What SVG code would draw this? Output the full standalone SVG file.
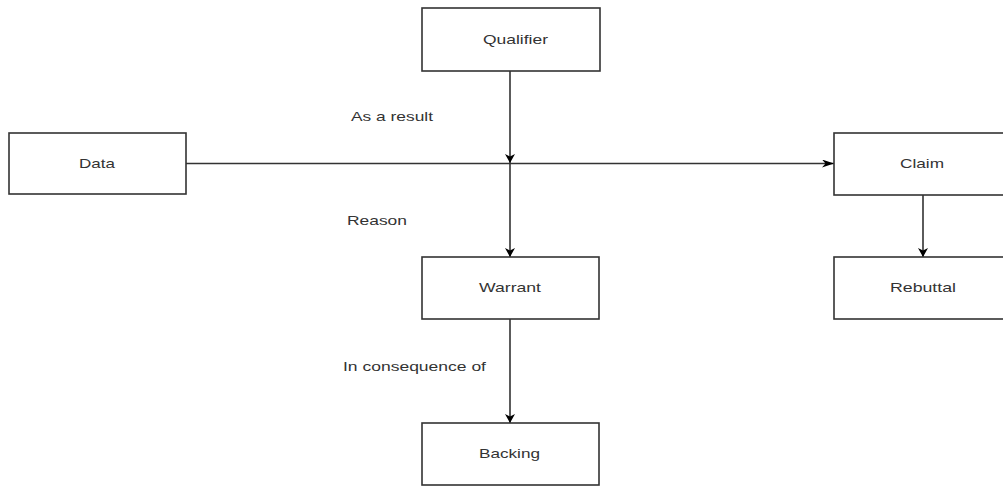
<svg xmlns="http://www.w3.org/2000/svg" width="1003" height="488" viewBox="0 0 1003 488">
<style>
.box{fill:#ffffff;stroke:#333333;stroke-width:1.6}
.lbl{font-family:"Liberation Sans",Arial,sans-serif;font-size:12.6px;fill:#333333}
.c{text-anchor:middle}
.edge{fill:none;stroke:#333333;stroke-width:1.6}
</style>
<defs>
<marker id="arrV" markerUnits="userSpaceOnUse" viewBox="0 0 9 10" markerWidth="9" markerHeight="10" refX="9" refY="5" orient="auto">
<path d="M0,0 L9,5 L0,10 L2.5,5 Z" fill="#000000"/>
</marker>
<marker id="arrH" markerUnits="userSpaceOnUse" viewBox="0 0 12 8" markerWidth="12" markerHeight="8" refX="12" refY="4" orient="auto">
<path d="M0,0 L12,4 L0,8 L3.5,4 Z" fill="#000000"/>
</marker>
</defs>
<rect width="1003" height="488" fill="#ffffff"/>
<g id="connectors">
<line class="edge" x1="510" y1="71" x2="510" y2="163" marker-end="url(#arrV)"/>
<line class="edge" x1="186" y1="163.5" x2="834" y2="163.5" marker-end="url(#arrH)"/>
<line class="edge" x1="510" y1="163.5" x2="510" y2="257" marker-end="url(#arrV)"/>
<line class="edge" x1="510" y1="319" x2="510" y2="423" marker-end="url(#arrV)"/>
<line class="edge" x1="923" y1="195" x2="923" y2="257" marker-end="url(#arrV)"/>
</g>
<g id="edge-labels">
<text class="lbl" x="351" y="121" textLength="82" lengthAdjust="spacingAndGlyphs">As a result</text>
<text class="lbl" x="347" y="225" textLength="60" lengthAdjust="spacingAndGlyphs">Reason</text>
<text class="lbl" x="343" y="371" textLength="143" lengthAdjust="spacingAndGlyphs">In consequence of</text>
</g>
<g id="qualifier">
<rect class="box" x="422" y="8" width="178" height="63"/>
<text class="lbl" x="483" y="44" textLength="65" lengthAdjust="spacingAndGlyphs">Qualifier</text>
</g>
<g id="data">
<rect class="box" x="9" y="133" width="177" height="61"/>
<text class="lbl" x="79" y="168" textLength="36" lengthAdjust="spacingAndGlyphs">Data</text>
</g>
<g id="claim">
<rect class="box" x="834" y="133" width="178" height="62"/>
<text class="lbl" x="900" y="168" textLength="44" lengthAdjust="spacingAndGlyphs">Claim</text>
</g>
<g id="rebuttal">
<rect class="box" x="834" y="257" width="178" height="62"/>
<text class="lbl" x="890" y="292" textLength="66" lengthAdjust="spacingAndGlyphs">Rebuttal</text>
</g>
<g id="warrant">
<rect class="box" x="422" y="257" width="177" height="62"/>
<text class="lbl" x="479" y="292" textLength="62" lengthAdjust="spacingAndGlyphs">Warrant</text>
</g>
<g id="backing">
<rect class="box" x="422" y="423" width="177" height="62"/>
<text class="lbl" x="479" y="458" textLength="61" lengthAdjust="spacingAndGlyphs">Backing</text>
</g>
</svg>
